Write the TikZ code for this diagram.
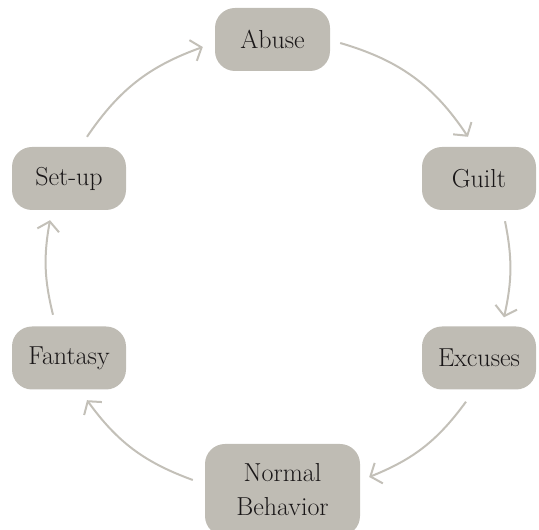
\documentclass[tikz,border=0pt]{standalone}
\usetikzlibrary{arrows.meta}
\definecolor{boxgray}{HTML}{BFBCB4}
\definecolor{arrgray}{HTML}{C3C0B8}
\definecolor{txt}{HTML}{1A1718}
\tikzset{
  stage/.style={draw=none, fill=boxgray, rounded corners=20pt, inner sep=0pt,
    minimum width=114pt, minimum height=63pt, text=txt, align=center,
    font=\fontsize{26}{34}\selectfont},
  arr/.style={draw=arrgray, line width=2pt,
    -{Straight Barb[length=9pt,width=22pt,line width=2pt]}}
}
\begin{document}
\begin{tikzpicture}[x=1pt,y=1pt]
\useasboundingbox (0,0) rectangle (539,530);
\clip (0,0) rectangle (539,530);
\node[stage, minimum width=115pt] (abuse) at (272.5,490.5) {Abuse};
\node[stage] (guilt) at (479,351.5) {Guilt};
\node[stage] (excuses) at (479,172) {Excuses};
\node[stage, minimum width=155pt, minimum height=92pt] (normal) at (282.5,40) {Normal\\Behavior};
\node[stage] (fantasy) at (69,172) {Fantasy};
\node[stage] (setup) at (69,351.5) {Set-up};

\draw[arr] ([shift={(18,10)}]setup.north) to[bend left=18] ([shift={(-12,-7.5)}]abuse.west);
\draw[arr] ([shift={(10,-3.5)}]abuse.east) to[bend left=20] ([shift={(-11,10)}]guilt.north);
\draw[arr] ([shift={(26,-11)}]guilt.south) to[bend left=12] ([shift={(25,9)}]excuses.north);
\draw[arr] ([shift={(-13,-12)}]excuses.south) to[bend left=16] ([shift={(9,13)}]normal.east);
\draw[arr] ([shift={(-12,10)}]normal.west) to[bend left=17] ([shift={(18,-10.5)}]fantasy.south);
\draw[arr] ([shift={(-16,11.5)}]fantasy.north) to[bend left=12] ([shift={(-19,-10)}]setup.south);
\end{tikzpicture}
\end{document}
